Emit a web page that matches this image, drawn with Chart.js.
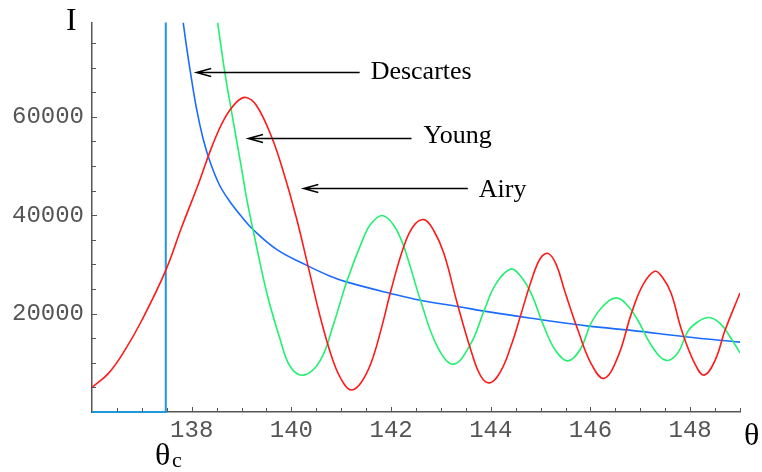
<!DOCTYPE html>
<html>
<head>
<meta charset="utf-8">
<script src="https://cdn.jsdelivr.net/npm/chart.js@4"></script>
<style>
  html, body { margin: 0; padding: 0; background: #fff; }
  canvas { display: block; }
</style>
</head>
<body>
<canvas id="rainbowChart" width="762" height="472"></canvas>
<script>
// axis ranges and tick labels
const thetaMin = 136, thetaMax = 149;
const intensityMax = 79200;
const xTickValues = [138, 140, 142, 144, 146, 148];
const yTickValues = [20000, 40000, 60000];

// Young (red)
const youngTheta = [136.00, 136.33, 136.66, 137.00, 137.48, 137.80, 138.14, 138.40, 138.65, 138.90,
  139.09, 139.30, 139.60, 139.85, 140.10, 140.35, 140.60, 140.85, 141.05, 141.21, 141.40, 141.60, 141.80,
  142.00, 142.25, 142.45, 142.66, 142.85, 143.06, 143.33, 143.60, 143.80, 143.99, 144.20, 144.40, 144.61,
  144.81, 145.00, 145.16, 145.32, 145.48, 145.75, 146.01, 146.27, 146.55, 146.82, 147.05, 147.29, 147.45,
  147.62, 147.83, 148.09, 148.28, 148.50, 148.70, 149.00];
const youngI = [5000, 7850, 12570, 18650, 28800, 37600, 46500, 53800, 59500, 63000,
  63950, 62300, 56000, 48500, 39500, 29000, 18500, 10000, 5800, 4460, 6000, 10000, 16800,
  24800, 33500, 37800, 39100, 37000, 32200, 22000, 12600, 7300, 5950, 8300, 13250, 20000,
  26600, 31300, 32200, 29800, 24700, 16600, 9900, 6830, 11200, 20000, 25800, 28600, 27300,
  24100, 16600, 9900, 7500, 10500, 16600, 24200];

// Airy (green)
const airyTheta = [138.52, 138.66, 138.80, 138.99, 139.11, 139.24, 139.51, 139.78, 139.98, 140.25, 140.58,
  140.85, 141.12, 141.45, 141.60, 141.82, 142.05, 142.26, 142.59, 142.93, 143.25, 143.60, 143.87, 144.10,
  144.40, 144.60, 144.81, 145.07, 145.30, 145.55, 145.80, 146.01, 146.25, 146.52, 146.75, 146.95, 147.25,
  147.52, 147.75, 147.96, 148.15, 148.38, 148.60, 148.80, 149.00];
const airyI = [79150, 69350, 61000, 50100, 43000, 36600, 24100, 14600, 9200, 7500, 10500,
  18000, 26800, 35500, 38300, 39950, 38000, 33500, 22700, 13250, 9730, 13900, 20700, 26000,
  29060, 27600, 24100, 17300, 12500, 10400, 12800, 18000, 21500, 23200, 21600, 18650, 13100,
  10500, 12000, 16500, 18300, 19200, 18000, 15300, 12000];

// Descartes (blue)
const descTheta = [137.83, 137.90, 137.97, 138.10, 138.23, 138.37, 138.55, 138.75, 139.01, 139.24, 139.71,
  140.31, 140.78, 141.12, 141.99, 142.59, 143.36, 143.87, 144.81, 146.01, 146.82, 147.90, 149.00];
const descI = [79150, 74000, 69350, 61500, 55500, 50800, 46300, 43000, 39600, 37000, 33000,
  29800, 27600, 26400, 24100, 22700, 21400, 20500, 19050, 17400, 16600, 15300, 14200];

// critical angle: zero below it, vertical line at it
const critTheta = [136, 137.48, 137.48];
const critI = [0, 0, 79200];

// annotations: [label, tip theta, tail theta, arrow I, text theta, text baseline I]
const arrowNotes = [
  ['Descartes', 138.09, 141.37, 69150, 141.59, 67700],
  ['Young', 139.13, 142.41, 55770, 142.65, 54750],
  ['Airy', 140.24, 143.54, 45630, 143.76, 43800]
];

const pts = (xs, ys) => xs.map((x, i) => ({ x, y: ys[i] }));

const curve = (data, color) => ({
  data,
  showLine: true,
  borderColor: color,
  borderWidth: 1.6,
  pointRadius: 0,
  tension: 0.4
});

const extras = {
  id: 'extras',
  afterDraw(chart) {
    const { ctx, scales: { x, y } } = chart;
    const x0 = x.getPixelForValue(thetaMin);
    const y0 = y.getPixelForValue(0);
    ctx.save();
    // inward ticks
    ctx.strokeStyle = '#555';
    ctx.lineWidth = 1;
    ctx.beginPath();
    for (let t = 136.5; t <= 149; t += 0.5) {
      const px = Math.round(x.getPixelForValue(t)) + 0.5;
      const len = Number.isInteger(t) && t % 2 === 0 ? 5 : 4;
      ctx.moveTo(px, y0);
      ctx.lineTo(px, y0 - len);
    }
    for (let v = 5000; v < intensityMax; v += 5000) {
      const py = Math.round(y.getPixelForValue(v)) + 0.5;
      const len = v % 20000 === 0 ? 5 : 4;
      ctx.moveTo(x0, py);
      ctx.lineTo(x0 + len, py);
    }
    ctx.stroke();

    // arrows + labels
    ctx.strokeStyle = '#000';
    ctx.fillStyle = '#000';
    ctx.lineWidth = 1.3;
    ctx.font = '26px "Liberation Serif", "Times New Roman", serif';
    ctx.textBaseline = 'alphabetic';
    ctx.textAlign = 'left';
    arrowNotes.forEach(([label, tip, tail, iv, tx, ty]) => {
      const px1 = x.getPixelForValue(tip);
      const px2 = x.getPixelForValue(tail);
      const py = Math.round(y.getPixelForValue(iv)) + 0.5;
      ctx.beginPath();
      ctx.moveTo(px2, py);
      ctx.lineTo(px1, py);
      ctx.moveTo(px1 + 15, py - 4);
      ctx.lineTo(px1, py);
      ctx.lineTo(px1 + 15, py + 4);
      ctx.stroke();
      ctx.fillText(label, x.getPixelForValue(tx), y.getPixelForValue(ty));
    });

    // axis names
    ctx.font = '32px "Liberation Serif", "Times New Roman", serif';
    ctx.fillText('I', 66, 30);
    ctx.fillText('\u03b8', 744, 445);
    ctx.fillText('\u03b8', 155, 465);
    ctx.font = '22px "Liberation Serif", "Times New Roman", serif';
    ctx.fillText('c', 172, 467);
    ctx.restore();
  }
};

new Chart(document.getElementById('rainbowChart'), {
  type: 'scatter',
  data: {
    datasets: [
      curve(pts(youngTheta, youngI), '#ff1a1a'),
      curve(pts(airyTheta, airyI), '#22f070'),
      curve(pts(descTheta, descI), '#1a6cff'),
      { ...curve(pts(critTheta, critI), '#1e98dc'), tension: 0, borderWidth: 2, clip: false }
    ]
  },
  options: {
    responsive: false,
    animation: false,
    devicePixelRatio: 1,
    layout: { padding: { top: 21, right: 22, left: 0, bottom: 0 } },
    plugins: { legend: { display: false }, tooltip: { enabled: false } },
    scales: {
      x: {
        type: 'linear',
        min: thetaMin,
        max: thetaMax,
        afterBuildTicks: s => { s.ticks = xTickValues.map(v => ({ value: v })); },
        afterFit: s => { s.height = 60; },
        grid: { display: false, drawTicks: false },
        border: { display: true, color: '#555', width: 1.5 },
        ticks: {
          font: { family: 'Liberation Mono', size: 24 },
          color: '#555',
          padding: 4,
          maxRotation: 0,
          autoSkip: false,
          callback: v => String(v)
        }
      },
      y: {
        min: 0,
        max: intensityMax,
        afterBuildTicks: s => { s.ticks = yTickValues.map(v => ({ value: v })); },
        afterFit: s => { s.width = 92; },
        grid: { display: false, drawTicks: false },
        border: { display: true, color: '#555', width: 1.5 },
        ticks: {
          font: { family: 'Liberation Mono', size: 24 },
          color: '#555',
          padding: 8,
          callback: v => String(v)
        }
      }
    }
  },
  plugins: [extras]
});
</script>
</body>
</html>
